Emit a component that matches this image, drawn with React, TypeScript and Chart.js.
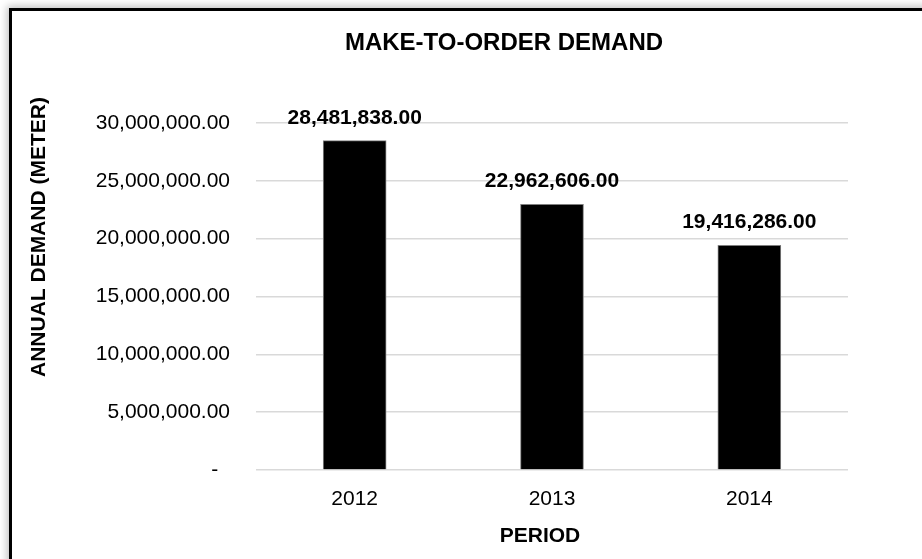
import React, { useEffect, useRef } from "react";
import { Chart, registerables } from "chart.js";

Chart.register(...registerables);

const categories = ["2012", "2013", "2014"];
const demandValues = [28481838, 22962606, 19416286];
const yTickValues = [0, 5000000, 10000000, 15000000, 20000000, 25000000, 30000000];
const chartTitle = "MAKE-TO-ORDER DEMAND";
const xTitle = "PERIOD";
const yTitle = "ANNUAL DEMAND (METER)";

const FONT = "'Liberation Sans', Arial, sans-serif";

const fmt = (v: number) =>
  v.toLocaleString("en-US", { minimumFractionDigits: 2, maximumFractionDigits: 2 });

const textPlugin = {
  id: "customTexts",
  afterDatasetsDraw(chart: any) {
    const ctx = chart.ctx;
    const meta = chart.getDatasetMeta(0);
    ctx.save();
    ctx.fillStyle = "#000";
    ctx.font = `bold 21px ${FONT}`;
    ctx.textAlign = "center";
    ctx.textBaseline = "alphabetic";
    meta.data.forEach((bar: any, i: number) => {
      ctx.fillText(fmt(demandValues[i]), bar.x, bar.y - 17);
    });
    ctx.restore();
  },
  afterDraw(chart: any) {
    const ctx = chart.ctx;
    ctx.save();
    ctx.fillStyle = "#000";
    ctx.textAlign = "center";
    ctx.textBaseline = "middle";
    ctx.font = `bold 24px ${FONT}`;
    ctx.fillText(chartTitle, 504, 43);
    ctx.font = `bold 21px ${FONT}`;
    ctx.fillText(xTitle, 540, 536);
    ctx.translate(39, 237);
    ctx.rotate(-Math.PI / 2);
    ctx.fillText(yTitle, 0, 0);
    ctx.restore();
  },
};

export default function App() {
  const ref = useRef<HTMLCanvasElement | null>(null);
  useEffect(() => {
    document.body.style.margin = "0";
    const chart = new Chart(ref.current as HTMLCanvasElement, {
      type: "bar",
      data: {
        labels: categories,
        datasets: [
          {
            data: demandValues,
            backgroundColor: "#000000",
            borderColor: "#7f7f7f",
            borderWidth: 1,
            barThickness: 63,
          },
        ],
      },
      options: {
        animation: false,
        responsive: false,
        maintainAspectRatio: false,
        devicePixelRatio: 1,
        layout: { padding: { left: 0, right: 74, top: 123, bottom: 49 } },
        plugins: {
          legend: { display: false },
          tooltip: { enabled: false },
          title: { display: false },
        },
        scales: {
          x: {
            grid: { display: false, drawTicks: false },
            border: { display: false },
            ticks: {
              color: "#000",
              font: { family: FONT, size: 21 },
              padding: 17,
              maxRotation: 0,
            },
            afterFit: (s: any) => {
              s.height = 40;
            },
          },
          y: {
            min: 0,
            max: 30000000,
            grid: { color: "#d9d9d9", lineWidth: 1.5, drawTicks: false },
            border: { display: false },
            afterBuildTicks: (s: any) => {
              s.ticks = yTickValues.map((v) => ({ value: v }));
            },
            ticks: {
              color: "#000",
              font: { family: FONT, size: 21 },
              padding: 26,
              callback: (v: any) => (Number(v) === 0 ? "-  " : fmt(Number(v))),
            },
            afterFit: (s: any) => {
              s.width = 256;
            },
          },
        },
      },
      plugins: [textPlugin],
    });
    return () => chart.destroy();
  }, []);

  return (
    <div
      style={{
        position: "relative",
        width: 922,
        height: 559,
        overflow: "hidden",
        background: "#ffffff",
      }}
    >
      <div
        style={{
          position: "absolute",
          left: 9,
          top: 8,
          width: 940,
          height: 580,
          border: "3px solid #000",
          boxShadow: "-2px -2px 8px rgba(0,0,0,0.25)",
          background: "#fff",
        }}
      />
      <canvas
        ref={ref}
        width={922}
        height={559}
        style={{ position: "absolute", left: 0, top: 0, width: 922, height: 559 }}
      />
    </div>
  );
}
